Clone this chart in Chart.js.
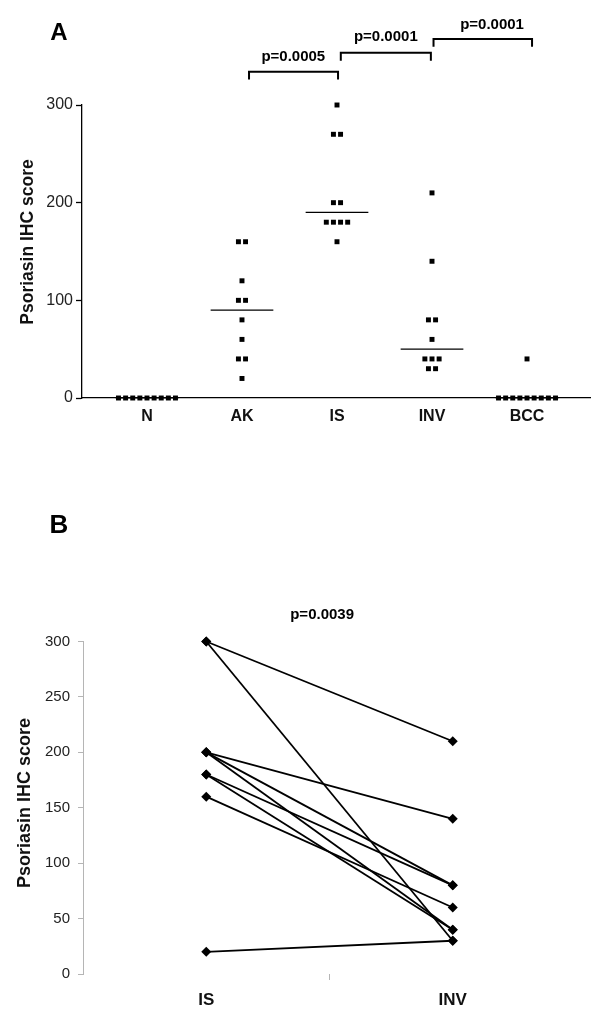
<!DOCTYPE html>
<html><head><meta charset="utf-8">
<script src="https://cdn.jsdelivr.net/npm/chart.js@4.4.0/dist/chart.umd.min.js"></script>
<style>
html,body{margin:0;padding:0;background:#fff;}
#wrap{position:relative;width:600px;height:1024px;background:#fff;}
canvas{position:absolute;left:0;}
#cA{top:0;} #cB{top:460px;}
</style></head><body>
<div id="wrap"><canvas id="cA" width="600" height="450"></canvas><canvas id="cB" width="600" height="564"></canvas></div>
<script>
// ---------- Panel A data ----------
const categoriesA = ['N', 'AK', 'IS', 'INV', 'BCC'];
const scoresN   = [0, 0, 0, 0, 0, 0, 0, 0, 0];
const scoresAK  = [160, 160, 120, 100, 100, 80, 60, 40, 40, 20];
const scoresIS  = [300, 270, 270, 200, 200, 180, 180, 180, 180, 160];
const scoresINV = [210, 140, 80, 80, 60, 40, 40, 40, 30, 30];
const scoresBCC = [40, 0, 0, 0, 0, 0, 0, 0, 0, 0];
const mediansA  = [0, 90, 190, 50, 0];
const yTicksA   = [0, 100, 200, 300];
const pValuesA  = ['p=0.0005', 'p=0.0001', 'p=0.0001'];
const yTitle    = 'Psoriasin IHC score';

// ---------- Panel B data ----------
const categoriesB = ['IS', 'INV'];
const pairedIS  = [300, 300, 200, 200, 200, 180, 180, 160, 20];
const pairedINV = [210, 30, 140, 80, 40, 80, 40, 60, 30];
const yTicksB   = [0, 50, 100, 150, 200, 250, 300];
const pValueB   = 'p=0.0039';

const FONT = '"Liberation Sans", Arial, Helvetica, sans-serif';
Chart.defaults.font.family = FONT;
Chart.defaults.color = '#111';

// spread tied values horizontally (column scatter layout)
function swarm(values, idx, step) {
  const counts = {};
  values.forEach(v => counts[v] = (counts[v] || 0) + 1);
  const seen = {};
  return values.map(v => {
    seen[v] = seen[v] === undefined ? 0 : seen[v] + 1;
    return { x: idx + (seen[v] - (counts[v] - 1) / 2) * step, y: v };
  });
}

function drawVerticalText(ctx, text, cx, cy, font) {
  ctx.save();
  ctx.translate(cx, cy);
  ctx.rotate(-Math.PI / 2);
  ctx.font = font; ctx.fillStyle = '#111';
  ctx.textAlign = 'center'; ctx.textBaseline = 'middle';
  ctx.fillText(text, 0, 0);
  ctx.restore();
}

const groupsA = [scoresN, scoresAK, scoresIS, scoresINV, scoresBCC];
const pointsA = [];
groupsA.forEach((g, i) => pointsA.push(...swarm(g, i, 0.075)));

const medianSets = mediansA.map((m, i) => ({
  type: 'line',
  data: [{ x: i - 0.33, y: m }, { x: i + 0.33, y: m }],
  borderColor: '#000', borderWidth: 1.2, pointRadius: 0, clip: false
}));

const annotA = {
  id: 'annotA',
  afterDraw(chart) {
    const { ctx, scales: { x, y } } = chart;
    const brackets = [
      { from: 1.074, to: 2.011, top: 334, leg: 326, lx: 1.54, ly: 349 },
      { from: 2.04,  to: 2.988, top: 353.5, leg: 345.4, lx: 2.514, ly: 369.3 },
      { from: 3.016, to: 4.053, top: 367.6, leg: 359.7, lx: 3.632, ly: 381.9 }
    ];
    ctx.save();
    ctx.strokeStyle = '#000'; ctx.fillStyle = '#000'; ctx.lineWidth = 2;
    ctx.font = 'bold 15px ' + FONT; ctx.textAlign = 'center'; ctx.textBaseline = 'middle';
    brackets.forEach((b, i) => {
      const x1 = x.getPixelForValue(b.from), x2 = x.getPixelForValue(b.to);
      const yt = y.getPixelForValue(b.top), yl = y.getPixelForValue(b.leg);
      ctx.beginPath(); ctx.moveTo(x1, yl); ctx.lineTo(x1, yt); ctx.lineTo(x2, yt); ctx.lineTo(x2, yl); ctx.stroke();
      ctx.fillText(pValuesA[i], x.getPixelForValue(b.lx), y.getPixelForValue(b.ly));
    });
    ctx.font = 'bold 24px ' + FONT;
    ctx.fillText('A', 59, 33);
    ctx.restore();
    drawVerticalText(ctx, yTitle, 28, 242, 'bold 17.5px ' + FONT);
  }
};

new Chart(document.getElementById('cA'), {
  type: 'scatter',
  data: {
    datasets: [{
      data: pointsA, pointStyle: 'rect', pointRadius: 3.5, pointBorderWidth: 0,
      pointBackgroundColor: '#000', backgroundColor: '#000', clip: false
    }, ...medianSets]
  },
  options: {
    responsive: false, animation: false,
    layout: { padding: { top: 105, right: 10, left: 0, bottom: 0 } },
    plugins: { legend: { display: false }, tooltip: { enabled: false } },
    scales: {
      x: {
        type: 'linear', min: -0.684, max: 4.663,
        afterBuildTicks: s => { s.ticks = categoriesA.map((c, i) => ({ value: i })); },
        afterFit: s => { s.height = 52; },
        ticks: { autoSkip: false, maxRotation: 0, padding: 9, font: { size: 16, weight: 'bold' }, color: '#111',
                 callback: v => categoriesA[v] ?? '' },
        grid: { drawOnChartArea: false, drawTicks: false },
        border: { display: true, color: '#000', width: 1.3 }
      },
      y: {
        type: 'linear', min: 0, max: 300,
        afterBuildTicks: s => { s.ticks = yTicksA.map(v => ({ value: v })); },
        afterFit: s => { s.width = 82; },
        ticks: { padding: 3, font: { size: 16 }, color: '#222' },
        grid: { drawOnChartArea: false, tickLength: 6, tickColor: '#000', tickWidth: 1.3 },
        border: { color: '#000', width: 1.3 },
        title: { display: false, text: yTitle }
      }
    }
  },
  plugins: [annotA]
});

// ---------- Panel B ----------
const pairSets = pairedIS.map((v, i) => ({
  type: 'line',
  data: [{ x: 0, y: v }, { x: 1, y: pairedINV[i] }],
  borderColor: '#000', borderWidth: 1.8,
  pointStyle: 'rectRot', pointRadius: 5, pointBorderWidth: 0,
  pointBackgroundColor: '#000', clip: false
}));

const annotB = {
  id: 'annotB',
  afterDraw(chart) {
    const { ctx, scales: { x, y } } = chart;
    ctx.save();
    ctx.fillStyle = '#000'; ctx.textAlign = 'center'; ctx.textBaseline = 'middle';
    ctx.font = 'bold 15px ' + FONT;
    ctx.fillText(pValueB, x.getPixelForValue(0.47), y.getPixelForValue(324));
    ctx.font = 'bold 26px ' + FONT;
    ctx.fillText('B', 59, 66);
    ctx.restore();
    drawVerticalText(ctx, yTitle, 25, 803 - 460, 'bold 18px ' + FONT);
  }
};

new Chart(document.getElementById('cB'), {
  type: 'line',
  data: { datasets: pairSets },
  options: {
    responsive: false, animation: false,
    layout: { padding: { top: 181.5, right: 24, left: 0, bottom: 0 } },
    plugins: { legend: { display: false }, tooltip: { enabled: false } },
    scales: {
      x: {
        type: 'linear', min: -0.5, max: 1.5,
        afterBuildTicks: s => { s.ticks = [0, 0.5, 1].map(v => ({ value: v })); },
        afterFit: s => { s.height = 50; },
        ticks: { autoSkip: false, maxRotation: 0, padding: 10, font: { size: 17, weight: 'bold' }, color: '#111',
                 callback: v => categoriesB[v] ?? '' },
        grid: { drawOnChartArea: false, drawTicks: true, tickLength: 6,
                tickColor: c => (c.tick && c.tick.value === 0.5) ? '#b5b5b5' : 'rgba(0,0,0,0)' },
        border: { display: false }
      },
      y: {
        type: 'linear', min: 0, max: 300,
        afterBuildTicks: s => { s.ticks = yTicksB.map(v => ({ value: v })); },
        afterFit: s => { s.width = 83; },
        ticks: { padding: 8, font: { size: 15 }, color: '#222' },
        grid: { drawOnChartArea: false, tickLength: 5, tickColor: '#b5b5b5' },
        border: { color: '#b5b5b5', width: 1 },
        title: { display: false, text: yTitle }
      }
    }
  },
  plugins: [annotB]
});
</script>
</body></html>
